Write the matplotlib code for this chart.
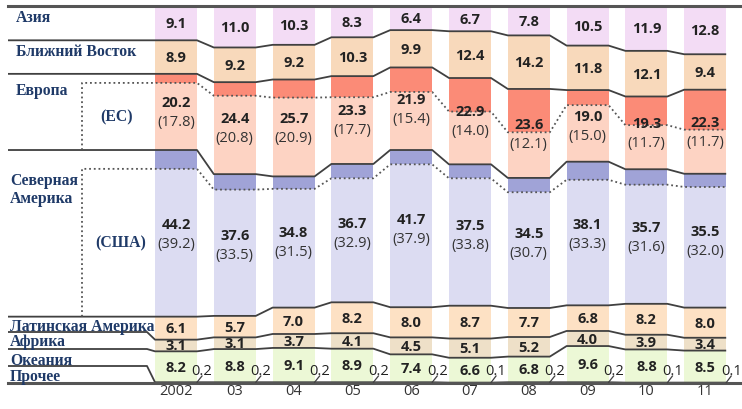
import matplotlib.pyplot as plt
import numpy as np

# Share of exports by destination (%), years 2002-2011
years = ['2002', '03', '04', '05', '06', '07', '08', '09', '10', '11']
asia = np.array([9.1, 11.0, 10.3, 8.3, 6.4, 6.7, 7.8, 10.5, 11.9, 12.8])
mideast = np.array([8.9, 9.2, 9.2, 10.3, 9.9, 12.4, 14.2, 11.8, 12.1, 9.4])
europe = np.array([20.2, 24.4, 25.7, 23.3, 21.9, 22.9, 23.6, 19.0, 19.3, 22.3])
eu = np.array([17.8, 20.8, 20.9, 17.7, 15.4, 14.0, 12.1, 15.0, 11.7, 11.7])
namerica = np.array([44.2, 37.6, 34.8, 36.7, 41.7, 37.5, 34.5, 38.1, 35.7, 35.5])
usa = np.array([39.2, 33.5, 31.5, 32.9, 37.9, 33.8, 30.7, 33.3, 31.6, 32.0])
latam = np.array([6.1, 5.7, 7.0, 8.2, 8.0, 8.7, 7.7, 6.8, 8.2, 8.0])
africa = np.array([3.1, 3.1, 3.7, 4.1, 4.5, 5.1, 5.2, 4.0, 3.9, 3.4])
oceania = np.array([8.2, 8.8, 9.1, 8.9, 7.4, 6.6, 6.8, 9.6, 8.8, 8.5])
other = np.array([0.2, 0.2, 0.2, 0.2, 0.2, 0.1, 0.2, 0.2, 0.1, 0.1])

# pixel <-> data helpers (layout only)
X0, DX, Y0, DY = 176.0, 58.8, 384.0, 3.77
def hx(p):
    return (p - X0) / DX
def vy(p):
    return (Y0 - p) / DY

fig = plt.figure(figsize=(7.42, 4.10), dpi=100)
ax = fig.add_axes([0, 0, 1, 1])
ax.set_xlim(hx(0), hx(742))
ax.set_ylim(vy(410), vy(0))
ax.axis('off')

x = np.arange(len(years))
w = 42 / DX

# stack from the bottom
parts = [
    (other, '#d0d0d0'),
    (oceania, '#ecf8d6'),
    (africa, '#eee0c8'),
    (latam, '#fde1c4'),
    (usa, '#dcdcf2'),
    (namerica - usa, '#a0a3d7'),
    (eu, '#fdd3c3'),
    (europe - eu, '#fb8b77'),
    (mideast, '#f8d9bb'),
    (asia, '#f3dcf5'),
]
bottom = np.zeros(len(years))
tops = []
for vals, col in parts:
    ax.bar(x, vals, w, bottom=bottom, color=col, linewidth=0, zorder=1)
    bottom = bottom + vals
    tops.append(bottom.copy())

t_other, t_oce, t_afr, t_lat, t_usa, t_na, t_eu, t_eur, t_me, t_asia = tops

def path(tops_arr):
    xs, ys = [], []
    for i, t in enumerate(tops_arr):
        xs += [i - w / 2, i + w / 2]
        ys += [t, t]
    return xs, ys

line_kw = dict(color='#404040', lw=1.3, zorder=3, solid_capstyle='butt')
dot_kw = dict(color='#555555', lw=1.3, ls=(0, (1, 1.6)), zorder=3)
xl = hx(8)
x_bend = hx(147)

# solid boundaries with straight left extension
for t in [t_me, t_eur, t_na, t_lat]:
    xs, ys = path(t)
    ax.plot([xl] + xs, [t[0]] + ys, **line_kw)

# solid boundaries that bend at the left into the label rows
for t, lvl in [(t_afr, vy(333)), (t_oce, vy(350)), (t_other, vy(367))]:
    xs, ys = path(t)
    ax.plot([xl, x_bend] + xs, [lvl, lvl] + ys, **line_kw)

# dotted sub-boundaries (EU, USA) with bracket
xb = hx(82)
for t, base in [(t_eu, t_na[0]), (t_usa, t_lat[0])]:
    xs, ys = path(t)
    ax.plot([xb, xb] + xs, [base, t[0]] + ys, **dot_kw)

# top and bottom rules
ax.plot([xl, hx(742)], [100, 100], color='#555555', lw=2.2, zorder=3)
ax.plot([xl, hx(742)], [0, 0], color='#555555', lw=2.2, zorder=3)

# value labels
vf = ['Open Sans', 'DejaVu Sans']
vkw = dict(ha='center', va='center', fontsize=10.5, fontweight='bold',
           color='#222222', zorder=4, family=vf)
pkw = dict(ha='center', va='center', fontsize=10.5, color='#333333',
           zorder=4, family=vf)
for i in range(len(years)):
    for vals, t in [(asia, t_asia), (mideast, t_me), (latam, t_lat),
                    (africa, t_afr), (oceania, t_oce)]:
        ax.text(i, t[i] - vals[i] / 2, f'{vals[i]:.1f}', **vkw)
    mid = t_eur[i] - europe[i] / 2
    ax.text(i, mid + 2.6, f'{europe[i]:.1f}', **vkw)
    ax.text(i, mid - 2.6, f'({eu[i]:.1f})', **pkw)
    mid = t_na[i] - namerica[i] / 2
    ax.text(i, mid + 2.6, f'{namerica[i]:.1f}', **vkw)
    ax.text(i, mid - 2.6, f'({usa[i]:.1f})', **pkw)
    # small "other" share with leader
    rx = i + w / 2
    ax.plot([rx, rx + 5 / DX], [t_other[i], vy(377)], color='#404040',
            lw=0.9, zorder=4)
    ax.text(rx + 5 / DX, vy(372), f'{other[i]:.1f}', ha='center', va='center',
            fontsize=10.5, color='#222222', zorder=5, family=vf)
    ax.text(i, vy(392), years[i], ha='center', va='center', fontsize=10.5,
            color='#333333', family=vf)

# left-hand category labels
lkw = dict(ha='left', va='center', fontsize=11.3, fontweight='bold',
           color='#1f3a68', family='Liberation Serif', zorder=6)
labels = [
    ('Азия', 16, 18), ('Ближний Восток', 16, 52), ('Европа', 16, 91),
    ('(ЕС)', 100, 117), ('Северная', 10, 181), ('Америка', 10, 199),
    ('(США)', 95, 243), ('Латинская Америка', 10, 327), ('Африка', 10, 342),
    ('Океания', 10, 361), ('Прочее', 10, 377),
]
for s, px, py in labels:
    ax.text(hx(px), vy(py), s, **lkw)

fig.savefig('out.png', dpi=100)
